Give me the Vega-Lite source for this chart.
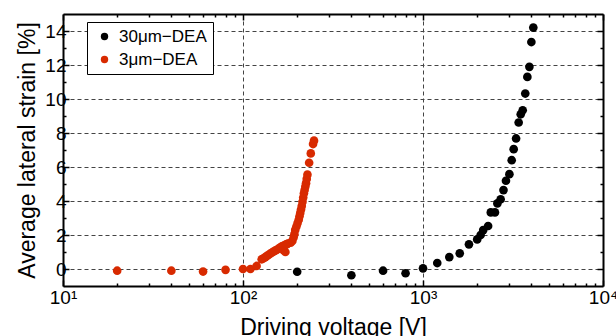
{
  "$schema": "https://vega.github.io/schema/vega-lite/v6.json",
  "width": 540,
  "height": 272,
  "autosize": "none",
  "padding": {"left": 63, "top": 14, "right": 13, "bottom": 50},
  "background": "white",
  "config": {
    "font": "Liberation Sans",
    "view": {"stroke": null},
    "axis": {"labelFont": "Liberation Sans", "titleFont": "Liberation Sans", "labelColor": "black", "titleColor": "black", "titleFontWeight": "normal"}
  },
  "data": {
    "values": [
      {"v": 200, "s": -0.16, "series": "30μm−DEA"},
      {"v": 400, "s": -0.37, "series": "30μm−DEA"},
      {"v": 600, "s": -0.1, "series": "30μm−DEA"},
      {"v": 800, "s": -0.25, "series": "30μm−DEA"},
      {"v": 1000, "s": 0.04, "series": "30μm−DEA"},
      {"v": 1200, "s": 0.35, "series": "30μm−DEA"},
      {"v": 1400, "s": 0.7, "series": "30μm−DEA"},
      {"v": 1600, "s": 0.92, "series": "30μm−DEA"},
      {"v": 1800, "s": 1.45, "series": "30μm−DEA"},
      {"v": 2000, "s": 1.74, "series": "30μm−DEA"},
      {"v": 2090, "s": 2.0, "series": "30μm−DEA"},
      {"v": 2160, "s": 2.29, "series": "30μm−DEA"},
      {"v": 2300, "s": 2.53, "series": "30μm−DEA"},
      {"v": 2380, "s": 3.33, "series": "30μm−DEA"},
      {"v": 2510, "s": 3.33, "series": "30μm−DEA"},
      {"v": 2590, "s": 3.86, "series": "30μm−DEA"},
      {"v": 2700, "s": 4.1, "series": "30μm−DEA"},
      {"v": 2800, "s": 4.64, "series": "30μm−DEA"},
      {"v": 2890, "s": 5.19, "series": "30μm−DEA"},
      {"v": 3020, "s": 5.58, "series": "30μm−DEA"},
      {"v": 3110, "s": 6.4, "series": "30μm−DEA"},
      {"v": 3190, "s": 7.05, "series": "30μm−DEA"},
      {"v": 3290, "s": 7.68, "series": "30μm−DEA"},
      {"v": 3400, "s": 8.62, "series": "30μm−DEA"},
      {"v": 3490, "s": 9.1, "series": "30μm−DEA"},
      {"v": 3580, "s": 9.34, "series": "30μm−DEA"},
      {"v": 3700, "s": 10.32, "series": "30μm−DEA"},
      {"v": 3800, "s": 11.3, "series": "30μm−DEA"},
      {"v": 3900, "s": 11.89, "series": "30μm−DEA"},
      {"v": 4000, "s": 13.35, "series": "30μm−DEA"},
      {"v": 4100, "s": 14.2, "series": "30μm−DEA"},
      {"v": 20, "s": -0.1, "series": "3μm−DEA"},
      {"v": 40, "s": -0.1, "series": "3μm−DEA"},
      {"v": 60, "s": -0.15, "series": "3μm−DEA"},
      {"v": 80, "s": -0.05, "series": "3μm−DEA"},
      {"v": 100, "s": 0.0, "series": "3μm−DEA"},
      {"v": 110, "s": 0.0, "series": "3μm−DEA"},
      {"v": 119, "s": 0.18, "series": "3μm−DEA"},
      {"v": 127, "s": 0.57, "series": "3μm−DEA"},
      {"v": 130, "s": 0.63, "series": "3μm−DEA"},
      {"v": 133, "s": 0.7, "series": "3μm−DEA"},
      {"v": 136, "s": 0.77, "series": "3μm−DEA"},
      {"v": 139, "s": 0.84, "series": "3μm−DEA"},
      {"v": 142, "s": 0.91, "series": "3μm−DEA"},
      {"v": 145, "s": 0.97, "series": "3μm−DEA"},
      {"v": 148, "s": 1.03, "series": "3μm−DEA"},
      {"v": 151, "s": 1.08, "series": "3μm−DEA"},
      {"v": 154, "s": 1.13, "series": "3μm−DEA"},
      {"v": 157, "s": 1.18, "series": "3μm−DEA"},
      {"v": 160, "s": 1.25, "series": "3μm−DEA"},
      {"v": 163, "s": 1.3, "series": "3μm−DEA"},
      {"v": 166, "s": 1.35, "series": "3μm−DEA"},
      {"v": 168, "s": 1.1, "series": "3μm−DEA"},
      {"v": 169, "s": 1.38, "series": "3μm−DEA"},
      {"v": 172, "s": 1.0, "series": "3μm−DEA"},
      {"v": 172, "s": 1.42, "series": "3μm−DEA"},
      {"v": 175, "s": 1.46, "series": "3μm−DEA"},
      {"v": 178, "s": 1.5, "series": "3μm−DEA"},
      {"v": 184, "s": 1.55, "series": "3μm−DEA"},
      {"v": 188, "s": 1.65, "series": "3μm−DEA"},
      {"v": 191, "s": 1.85, "series": "3μm−DEA"},
      {"v": 193, "s": 2.05, "series": "3μm−DEA"},
      {"v": 195, "s": 2.3, "series": "3μm−DEA"},
      {"v": 198, "s": 2.5, "series": "3μm−DEA"},
      {"v": 201, "s": 2.7, "series": "3μm−DEA"},
      {"v": 204, "s": 2.9, "series": "3μm−DEA"},
      {"v": 206, "s": 3.1, "series": "3μm−DEA"},
      {"v": 208, "s": 3.3, "series": "3μm−DEA"},
      {"v": 210, "s": 3.5, "series": "3μm−DEA"},
      {"v": 212, "s": 3.7, "series": "3μm−DEA"},
      {"v": 214, "s": 3.95, "series": "3μm−DEA"},
      {"v": 216, "s": 4.2, "series": "3μm−DEA"},
      {"v": 218, "s": 4.45, "series": "3μm−DEA"},
      {"v": 220, "s": 4.65, "series": "3μm−DEA"},
      {"v": 222, "s": 4.85, "series": "3μm−DEA"},
      {"v": 224, "s": 5.05, "series": "3μm−DEA"},
      {"v": 226, "s": 5.3, "series": "3μm−DEA"},
      {"v": 228, "s": 5.55, "series": "3μm−DEA"},
      {"v": 233, "s": 6.25, "series": "3μm−DEA"},
      {"v": 238, "s": 6.8, "series": "3μm−DEA"},
      {"v": 245, "s": 7.35, "series": "3μm−DEA"},
      {"v": 248, "s": 7.55, "series": "3μm−DEA"}
    ]
  },
  "resolve": {"axis": {"x": "independent", "y": "independent"}},
  "layer": [
    {
      "mark": {"type": "point", "opacity": 0},
      "encoding": {
        "x": {"field": "v", "type": "quantitative", "scale": {"type": "log", "domain": [10, 10000], "nice": false},
          "axis": {"orient": "bottom", "values": [100, 1000], "grid": true, "gridDash": [4, 3], "gridColor": "#444", "gridWidth": 1, "gridOpacity": 1, "ticks": false, "labels": false, "domain": false, "title": null}},
        "y": {"field": "s", "type": "quantitative", "scale": {"domain": [-1, 15], "nice": false, "zero": false},
          "axis": {"orient": "left", "values": [0, 2, 4, 6, 8, 10, 12, 14], "grid": true, "gridDash": [4, 3], "gridColor": "#444", "gridWidth": 1, "gridOpacity": 1, "ticks": false, "labels": false, "domain": false, "title": null}}
      }
    },
    {
      "mark": {"type": "point", "opacity": 0},
      "encoding": {
        "x": {"field": "v", "type": "quantitative", "scale": {"type": "log", "domain": [10, 10000], "nice": false},
          "axis": {"orient": "bottom", "values": [20, 30, 40, 50, 60, 70, 80, 90, 200, 300, 400, 500, 600, 700, 800, 900, 2000, 3000, 4000, 5000, 6000, 7000, 8000, 9000], "grid": false, "tickSize": -3, "tickWidth": 1.5, "tickColor": "black", "labels": false, "domain": false, "title": null}},
        "y": {"field": "s", "type": "quantitative",
          "axis": {"orient": "left", "values": [1, 3, 5, 7, 9, 11, 13], "grid": false, "tickSize": -3, "tickWidth": 1.5, "tickColor": "black", "labels": false, "domain": false, "title": null}}
      }
    },
    {
      "mark": {"type": "point", "opacity": 0},
      "encoding": {
        "x": {"field": "v", "type": "quantitative",
          "axis": {"orient": "top", "values": [20, 30, 40, 50, 60, 70, 80, 90, 200, 300, 400, 500, 600, 700, 800, 900, 2000, 3000, 4000, 5000, 6000, 7000, 8000, 9000], "grid": false, "tickSize": -3, "tickWidth": 1.5, "tickColor": "black", "labels": false, "domain": false, "title": null}},
        "y": {"field": "s", "type": "quantitative",
          "axis": {"orient": "right", "values": [1, 3, 5, 7, 9, 11, 13], "grid": false, "tickSize": -3, "tickWidth": 1.5, "tickColor": "black", "labels": false, "domain": false, "title": null}}
      }
    },
    {
      "mark": {"type": "point", "opacity": 0},
      "encoding": {
        "x": {"field": "v", "type": "quantitative",
          "axis": {"orient": "top", "values": [10, 100, 1000, 10000], "grid": false, "tickSize": -6, "tickWidth": 1.5, "tickColor": "black", "labels": false, "domain": true, "domainWidth": 2, "domainColor": "black", "title": null}},
        "y": {"field": "s", "type": "quantitative",
          "axis": {"orient": "right", "values": [0, 2, 4, 6, 8, 10, 12, 14], "grid": false, "tickSize": -6, "tickWidth": 1.5, "tickColor": "black", "labels": false, "domain": true, "domainWidth": 2, "domainColor": "black", "title": null}}
      }
    },
    {
      "mark": {"type": "point", "filled": true, "size": 75, "opacity": 1},
      "encoding": {
        "x": {"field": "v", "type": "quantitative",
          "axis": {"orient": "bottom", "values": [10, 100, 1000, 10000], "labelExpr": "datum.value == 10 ? '10¹' : datum.value == 100 ? '10²' : datum.value == 1000 ? '10³' : '10⁴'", "labelFlush": false, "labelOverlap": false, "labelFontSize": 19, "labelPadding": 8, "grid": false, "tickSize": -6, "tickWidth": 1.5, "tickColor": "black", "domain": true, "domainWidth": 2, "domainColor": "black", "title": "Driving voltage [V]", "titleFontSize": 23, "titlePadding": 9}},
        "y": {"field": "s", "type": "quantitative",
          "axis": {"orient": "left", "values": [0, 2, 4, 6, 8, 10, 12, 14], "labelFontSize": 19, "labelPadding": 3, "grid": false, "tickSize": -6, "tickWidth": 1.5, "tickColor": "black", "domain": true, "domainWidth": 2, "domainColor": "black", "title": "Average lateral strain [%]", "titleFontSize": 23, "titlePadding": 5}},
        "color": {"field": "series", "type": "nominal",
          "scale": {"domain": ["30μm−DEA", "3μm−DEA"], "range": ["#000000", "#d82a00"]},
          "legend": {"orient": "none", "legendX": 24, "legendY": 8, "title": null, "strokeColor": "black", "fillColor": "white", "padding": 6, "symbolOffset": 3, "symbolType": "circle", "symbolSize": 55, "symbolStrokeWidth": 0, "labelFontSize": 17, "labelFont": "Liberation Sans", "labelColor": "black", "labelOffset": 6, "rowPadding": 5,
            "encode": {"legend": {"update": {"strokeWidth": {"value": 1.5}}}}}}
      }
    }
  ]
}
